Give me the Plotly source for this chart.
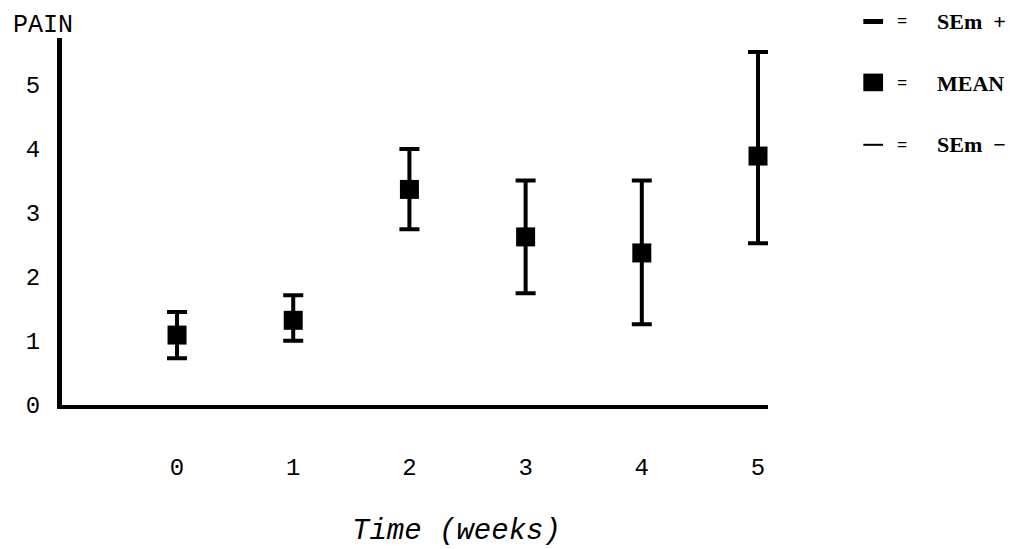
import plotly.graph_objects as go

weeks = [0, 1, 2, 3, 4, 5]
mean_pain = [1.09, 1.32, 3.36, 2.62, 2.37, 3.88]
sem_plus = [1.45, 1.71, 3.99, 3.50, 3.50, 5.50]
sem_minus = [0.73, 1.00, 2.74, 1.74, 1.26, 2.52]
y_ticks = [0, 1, 2, 3, 4, 5]
x_tick_labels = ["0", "1", "2", "3", "4", "5"]

err_up = [u - m for u, m in zip(sem_plus, mean_pain)]
err_dn = [m - l for m, l in zip(mean_pain, sem_minus)]

FONT = "Liberation Mono"

fig = go.Figure()
fig.add_trace(go.Scatter(
    x=weeks, y=mean_pain, mode="markers",
    marker=dict(symbol="square", size=19, color="black"),
    error_y=dict(type="data", symmetric=False, array=err_up, arrayminus=err_dn,
                 color="black", thickness=4, width=10),
    showlegend=False,
))

fig.update_layout(
    width=1033, height=549,
    margin=dict(l=62, r=265, t=38, b=144),
    paper_bgcolor="white", plot_bgcolor="white",
    font=dict(family=FONT, size=22, color="black"),
    xaxis=dict(range=[-0.99, 5.086], tickvals=weeks, ticktext=x_tick_labels,
               showline=True, linecolor="black", linewidth=4, showgrid=False,
               zeroline=False, ticks="", ticklabelstandoff=37, automargin=False,
               tickfont=dict(family=FONT, size=24)),
    yaxis=dict(range=[0, 5.72], tickvals=y_ticks,
               showline=True, linecolor="black", linewidth=5, showgrid=False,
               zeroline=False, ticks="", ticklabelstandoff=12, automargin=False,
               tickfont=dict(family=FONT, size=24)),
)

fig.add_annotation(text="Time (weeks)", xref="paper", yref="paper",
                   x=0.559, y=-0.346, xanchor="center", yanchor="middle",
                   showarrow=False,
                   font=dict(family=FONT, size=29, style="italic"))

fig.add_annotation(text="PAIN", xref="paper", yref="paper", x=-0.072, y=1.0,
                   xanchor="left", yanchor="bottom", showarrow=False,
                   font=dict(family=FONT, size=25), yshift=-4)

# legend key (drawn manually)
rows = [(1.045, "SEm\u2002+"), (0.877, "MEAN"), (0.709, "SEm\u2002\u2212")]
LF = dict(family="Liberation Serif", size=22, color="black")
for i, (yy, label) in enumerate(rows):
    if i == 1:
        fig.add_shape(type="rect", xref="paper", yref="paper",
                      x0=1.135, x1=1.163, y0=yy - 0.022, y1=yy + 0.026,
                      fillcolor="black", line=dict(width=0))
    else:
        fig.add_shape(type="line", xref="paper", yref="paper",
                      x0=1.135, x1=1.163, y0=yy, y1=yy,
                      line=dict(color="black", width=5 if i == 0 else 2))
    fig.add_annotation(text="<b>=</b>", xref="paper", yref="paper", x=1.19, y=yy,
                       xanchor="center", yanchor="middle", showarrow=False,
                       font=dict(family="Liberation Serif", size=18, color="black"))
    fig.add_annotation(text="<b>" + label + "</b>", xref="paper", yref="paper",
                       x=1.236, y=yy, xanchor="left", yanchor="middle",
                       showarrow=False, font=LF)

fig.write_html("out.html")
